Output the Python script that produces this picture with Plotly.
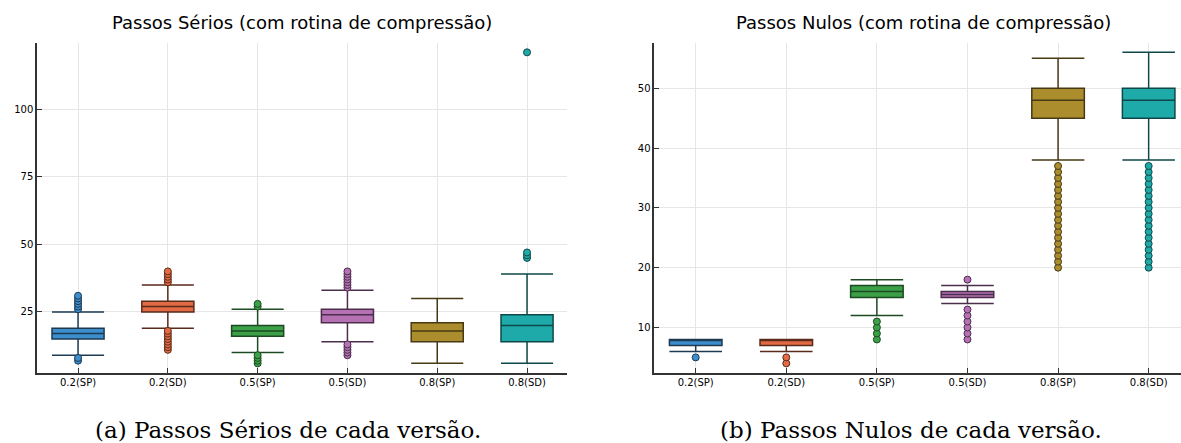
import plotly.graph_objects as go

categories = ["0.2(SP)", "0.2(SD)", "0.5(SP)", "0.5(SD)", "0.8(SP)", "0.8(SD)"]

# Passos Sérios (left)
ser_q1 = [15, 25, 16, 21, 14, 14]
ser_med = [17, 27, 18, 24, 18, 20]
ser_q3 = [19, 29, 20, 26, 21, 24]
ser_lo = [9, 19, 10, 14, 6, 6]
ser_hi = [25, 35, 26, 33, 30, 39]
ser_out = [
    [7, 8, 26, 27, 28, 29, 30, 31],
    [11, 12, 13, 14, 15, 16, 17, 18, 36, 37, 38, 39, 40],
    [6, 7, 8, 9, 27, 28],
    [9, 10, 11, 12, 13, 34, 35, 36, 37, 38, 39, 40],
    [],
    [45, 46, 47, 121],
]

# Passos Nulos (right)
nul_q1 = [7, 7, 15, 15, 45, 45]
nul_med = [8, 8, 16, 15.5, 48, 48]
nul_q3 = [8, 8, 17, 16, 50, 50]
nul_lo = [6, 6, 12, 14, 38, 38]
nul_hi = [8, 8, 18, 17, 55, 56]
nul_out = [
    [5],
    [4, 5],
    [8, 9, 10, 11],
    [8, 9, 10, 11, 12, 13, 18],
    [20, 21, 22, 23, 24, 25, 26, 27, 28, 29, 30, 31, 32, 33, 34, 35, 36, 37],
    [20, 21, 22, 23, 24, 25, 26, 27, 28, 29, 30, 31, 32, 33, 34, 35, 36, 37],
]

fill_colors = ["#3C8ECC", "#E26B45", "#3BA047", "#B571B4", "#AC8D2E", "#1FAAAA"]
line_colors = ["#1D3A52", "#5A2A1A", "#1C4A22", "#4A2E4A", "#463A14", "#0F4848"]

fig = go.Figure()


def add_panel(q1, med, q3, lo, hi, outs, xa, ya):
    for i, c in enumerate(categories):
        fig.add_trace(go.Box(
            x=[c], q1=[q1[i]], median=[med[i]], q3=[q3[i]],
            lowerfence=[lo[i]], upperfence=[hi[i]],
            boxpoints=False, width=0.58, whiskerwidth=1,
            fillcolor=fill_colors[i],
            line=dict(color=line_colors[i], width=1.5),
            xaxis=xa, yaxis=ya, showlegend=False, hoverinfo="skip",
        ))
        if outs[i]:
            fig.add_trace(go.Scatter(
                x=[c] * len(outs[i]), y=outs[i], mode="markers",
                marker=dict(size=7, color=fill_colors[i],
                            line=dict(color=line_colors[i], width=1)),
                xaxis=xa, yaxis=ya, showlegend=False, hoverinfo="skip",
            ))


add_panel(ser_q1, ser_med, ser_q3, ser_lo, ser_hi, ser_out, "x", "y")
add_panel(nul_q1, nul_med, nul_q3, nul_lo, nul_hi, nul_out, "x2", "y2")

H = 443.0
W = 1181.0
ydom = [(H - 372.7) / H, (H - 43) / H]

axis_common = dict(
    showgrid=True, gridcolor="#E6E6E6", gridwidth=1,
    showline=True, linecolor="#333333", linewidth=1.5,
    ticks="inside", ticklen=5, tickcolor="#333333", tickwidth=1,
    tickfont=dict(family="DejaVu Sans", size=10, color="#000000"),
    zeroline=False, mirror=False,
)

fig.update_layout(
    width=1181, height=443,
    margin=dict(l=0, r=0, t=0, b=0),
    paper_bgcolor="white", plot_bgcolor="white",
    boxmode="overlay",
    xaxis=dict(domain=[37 / W, 567 / W], range=[-0.457, 5.445], type="category",
               categoryorder="array", categoryarray=categories, anchor="y", **axis_common),
    yaxis=dict(domain=ydom, range=[2.55, 124.45], tickvals=[25, 50, 75, 100],
               anchor="x", **axis_common),
    xaxis2=dict(domain=[654.3 / W, 1.0], range=[-0.457, 5.357], type="category",
                categoryorder="array", categoryarray=categories, anchor="y2", **axis_common),
    yaxis2=dict(domain=ydom, range=[2.44, 57.56], tickvals=[10, 20, 30, 40, 50],
                anchor="x2", **axis_common),
    annotations=[
        dict(text="Passos Sérios (com rotina de compressão)", x=302 / W, y=(H - 22) / H,
             xref="paper", yref="paper", showarrow=False, xanchor="center", yanchor="middle",
             font=dict(family="DejaVu Sans", size=18, color="#000000")),
        dict(text="Passos Nulos (com rotina de compressão)", x=923 / W, y=(H - 22) / H,
             xref="paper", yref="paper", showarrow=False, xanchor="center", yanchor="middle",
             font=dict(family="DejaVu Sans", size=18, color="#000000")),
        dict(text="(a) Passos Sérios de cada versão.", x=288 / W, y=(H - 430) / H,
             xref="paper", yref="paper", showarrow=False, xanchor="center", yanchor="middle",
             font=dict(family="DejaVu Serif", size=23, color="#000000")),
        dict(text="(b) Passos Nulos de cada versão.", x=911 / W, y=(H - 430) / H,
             xref="paper", yref="paper", showarrow=False, xanchor="center", yanchor="middle",
             font=dict(family="DejaVu Serif", size=23, color="#000000")),
    ],
)

fig.write_html("out.html", config={"displayModeBar": False})

# remove the default page margin so the figure fills the window exactly
with open("out.html", "r", encoding="utf-8") as f:
    html = f.read()
html = html.replace("<head>", "<head><style>html,body{margin:0;padding:0;overflow:hidden;}</style>", 1)
with open("out.html", "w", encoding="utf-8") as f:
    f.write(html)
